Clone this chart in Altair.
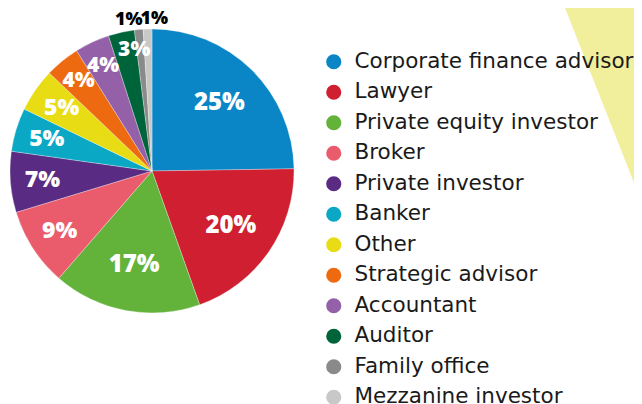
import altair as alt
import pandas as pd

categories = ["Corporate finance advisor", "Lawyer", "Private equity investor", "Broker",
              "Private investor", "Banker", "Other", "Strategic advisor", "Accountant",
              "Auditor", "Family office", "Mezzanine investor"]
values = [25, 20, 17, 9, 7, 5, 5, 4, 4, 3, 1, 1]
colors = ["#0a86c6", "#cf1f30", "#63b33a", "#ea5c6c", "#5a2b82", "#0aa8c4",
          "#e8dc14", "#ee6a10", "#9461a8", "#00643a", "#8a8a8a", "#c8c8c8"]

df = pd.DataFrame({"cat": categories, "val": values, "idx": list(range(len(values)))})
df["label"] = [f"{v}%" for v in values]

W, H = 626, 396
CX, CY, R = 144, 163, 142

tri = pd.DataFrame({"yy": [0, 195], "xl": [557, 634], "xr": [634, 634]})
bg = alt.Chart(tri).mark_area(color="#f1ee9c", orient="horizontal").encode(
    y=alt.Y("yy:Q", scale=alt.Scale(domain=[0, H], reverse=True, nice=False), axis=None),
    x=alt.X("xl:Q", scale=alt.Scale(domain=[0, W], nice=False), axis=None),
    x2="xr:Q",
)

pie = alt.Chart(df).mark_arc(outerRadius=R, stroke="#ffffff", strokeWidth=0.3).encode(
    theta=alt.Theta("val:Q", stack=True),
    order=alt.Order("idx:Q"),
    x=alt.value(CX), y=alt.value(CY),
    color=alt.Color("cat:N", scale=alt.Scale(domain=categories, range=colors),
                    sort=categories,
                    legend=alt.Legend(title=None, orient="none", legendX=315, legendY=43,
                                      symbolType="circle", symbolSize=230, symbolStrokeWidth=0,
                                      labelFont="DejaVu Sans", labelFontSize=21.5,
                                      labelColor="#1a1a1a", labelOffset=10,
                                      rowPadding=7.5, padding=0, labelLimit=400)),
)

F = "Open Sans"

tbase = alt.Chart(df).transform_joinaggregate(
    total="sum(val)"
).transform_window(
    cum="sum(val)", sort=[alt.SortField("idx")], frame=[None, 0]
).transform_calculate(
    ang="(datum.cum - datum.val / 2) / datum.total * 2 * PI"
).encode(
    theta=alt.Theta("ang:Q", scale=None, stack=None),
    x=alt.value(CX), y=alt.value(CY), text="label:N",
)

lg = tbase.mark_text(radius=96, color="white", font=F, fontWeight=800, fontSize=24).transform_filter(
    alt.datum.val >= 17)
md = tbase.mark_text(radius=110, color="white", font=F, fontWeight=800, fontSize=23).transform_filter(
    (alt.datum.val >= 5) & (alt.datum.val < 17))
four = tbase.mark_text(radius=116, color="white", font=F, fontWeight=800, fontSize=21).transform_filter(
    alt.datum.val == 4)
three = tbase.mark_text(radius=124, dx=9, color="white", font=F, fontWeight=800, fontSize=21).transform_filter(
    alt.datum.val == 3)
fam = tbase.mark_text(radius=152, dx=-9, color="black", font=F, fontWeight=800, fontSize=18).transform_filter(
    alt.datum.cat == "Family office")
mez = tbase.mark_text(radius=152, dx=7, color="black", font=F, fontWeight=800, fontSize=18).transform_filter(
    alt.datum.cat == "Mezzanine investor")

chart = alt.layer(bg, pie, lg, md, four, three, fam, mez).properties(
    width=W, height=H, padding=0, autosize=alt.AutoSizeParams(type="none")
).configure_view(stroke=None)

chart.save("out.html", embed_options={"renderer": "svg", "actions": False})
